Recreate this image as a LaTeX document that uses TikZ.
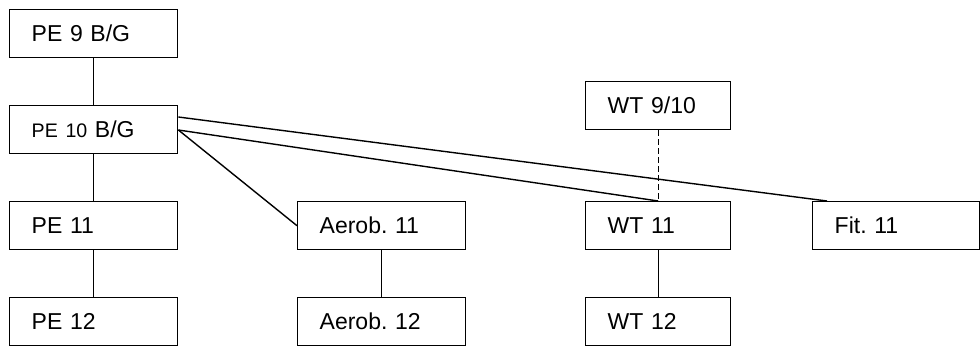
\documentclass[tikz,border=0pt]{standalone}
\usepackage{fontspec}
\setmainfont{Liberation Sans}
\usepackage{tikz}
\frenchspacing

\begin{document}
\begin{tikzpicture}[x=0.5pt,y=0.5pt]
\tikzstyle{course}=[
  draw, line width=0.7pt,
  anchor=north west,
  minimum height=24pt,
  inner xsep=11pt,
  align=left,
  font=\fontsize{11.5}{13}\selectfont ]
\tikzstyle{wide}=[text width=62pt]
\tikzstyle{narrow}=[text width=50.5pt]
\tikzstyle{link}=[line width=0.7pt]
\useasboundingbox (0,0) rectangle (980,-349);
% PE column
\node[course,wide] (pe9)  at (9,-9)   {PE 9 B/G};
\node[course,wide] (pe10) at (9,-105) {{\fontsize{9.8}{11}\selectfont PE 10} B/G};
\node[course,wide] (pe11) at (9,-201) {PE 11};
\node[course,wide] (pe12) at (9,-297) {PE 12};
% Aerobics
\node[course,wide] (aer11) at (297,-201) {Aerob. 11};
\node[course,wide] (aer12) at (297,-297) {Aerob. 12};
% weight training
\node[course,narrow] (wt910) at (585,-81)  {WT 9/10};
\node[course,narrow] (wt11)  at (585,-201) {WT 11};
\node[course,narrow] (wt12)  at (585,-297) {WT 12};
% fitness
\node[course,wide,text width=61.5pt] (fit11) at (812,-201) {Fit. 11};
\coordinate (pe10hi) at ([yshift=-6pt]pe10.north east);
\coordinate (pe10lo) at ([yshift=-12.5pt]pe10.north east);
\coordinate (fittop) at ([xshift=7.5pt]fit11.north west);
\draw[link] (pe9) -- (pe10);
\draw[link] (pe10) -- (pe11);
\draw[link] (pe11) -- (pe12);
\draw[link] (aer11) -- (aer12);
\draw[link] (wt11) -- (wt12);
\draw[link,dash pattern=on 3pt off 1.5pt] (wt910) -- (wt11);
\draw[link] (pe10hi) -- (fittop);
\draw[link] (pe10lo) -- (wt11.north);
\draw[link] (pe10lo) -- (aer11.west);
\end{tikzpicture}
\end{document}
